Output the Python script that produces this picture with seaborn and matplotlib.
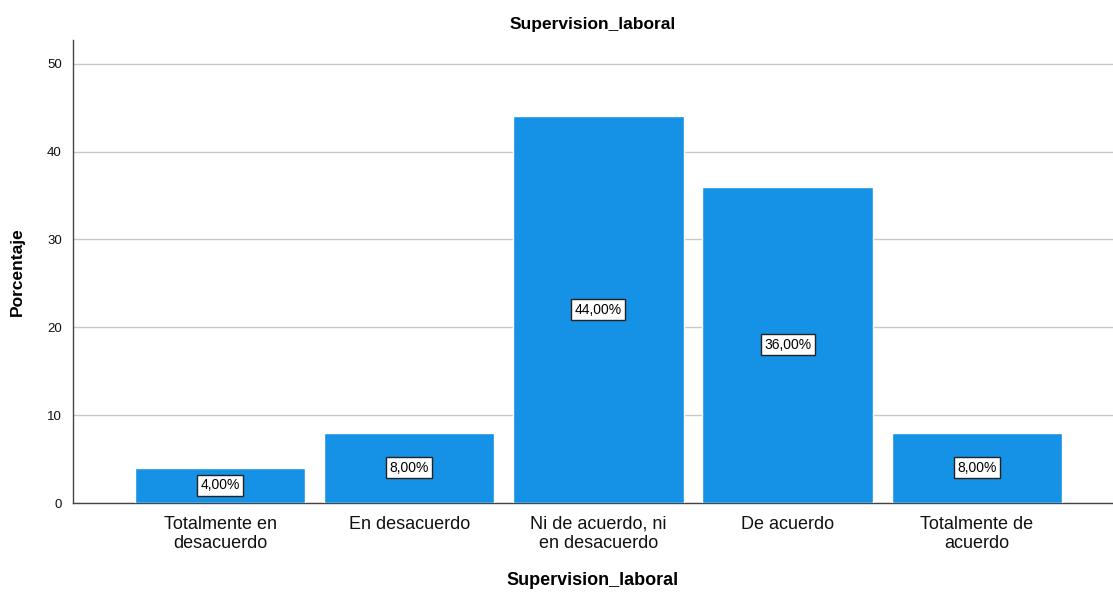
import matplotlib
matplotlib.use("Agg")
import matplotlib.pyplot as plt
import seaborn as sns
import pandas as pd

categories = ["Totalmente en\ndesacuerdo", "En desacuerdo", "Ni de acuerdo, ni\nen desacuerdo",
              "De acuerdo", "Totalmente de\nacuerdo"]
percentages = [4.0, 8.0, 44.0, 36.0, 8.0]
y_ticks = [0, 10, 20, 30, 40, 50]

sns.set_style("white")
plt.rcParams["font.family"] = ["Liberation Sans", "DejaVu Sans"]
plt.rcParams["text.color"] = "black"
plt.rcParams["axes.labelcolor"] = "black"

df = pd.DataFrame({"categoria": categories, "porcentaje": percentages})

fig = plt.figure(figsize=(11.13, 5.92), dpi=100)
ax = fig.add_axes([0.0656, 0.1503, 0.9344, 0.7821])

sns.barplot(data=df, x="categoria", y="porcentaje", color="#1591e5", saturation=1,
            width=0.9, ax=ax, zorder=3)

ax.set_xlim(-0.777, 4.72)
ax.set_ylim(0, 52.7)
ax.set_yticks(y_ticks)
ax.yaxis.grid(True, color="#c8c8c8", linewidth=1, zorder=0)
ax.set_axisbelow(True)

for s in ["top", "right"]:
    ax.spines[s].set_visible(False)
for s in ["left", "bottom"]:
    ax.spines[s].set_color("#444444")
    ax.spines[s].set_linewidth(1)

ax.tick_params(axis="y", length=0, labelsize=9.5, pad=8, colors="#111111")
ax.tick_params(axis="x", length=0, labelsize=13, pad=9, colors="#111111")
for lbl in ax.get_xticklabels():
    lbl.set_linespacing(1.2)

for i, v in enumerate(percentages):
    ax.text(i, v / 2, f"{v:.2f}%".replace(".", ","), ha="center", va="center",
            fontsize=10, color="black", zorder=5,
            bbox=dict(boxstyle="square,pad=0.25", facecolor="white", edgecolor="#222222", linewidth=1))

ax.set_title("Supervision_laboral", fontsize=12.5, fontweight="bold", pad=8, color="black")
ax.set_xlabel("Supervision_laboral", fontsize=13, fontweight="bold", labelpad=14)
ax.set_ylabel("Porcentaje", fontsize=12.5, fontweight="bold", labelpad=16)

fig.savefig("out.png", dpi=100)
